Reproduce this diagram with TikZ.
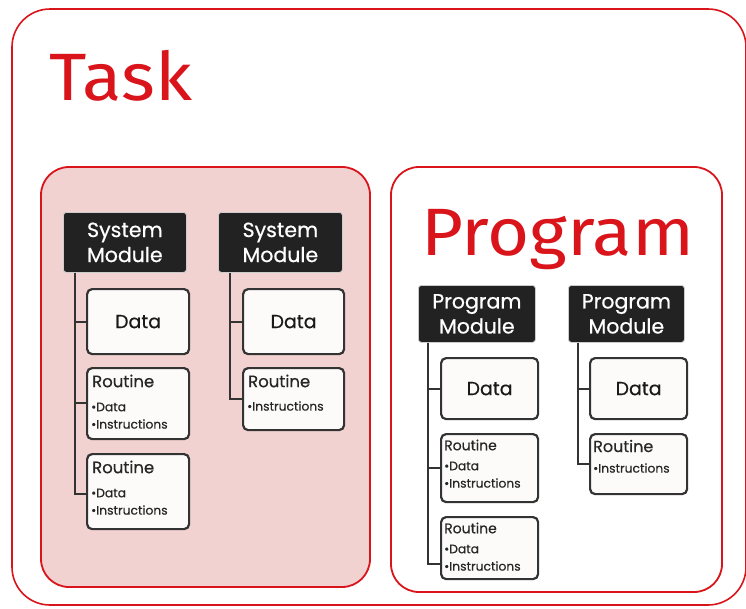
\documentclass[tikz,border=0pt]{standalone}
\usepackage{fontspec}
\setmainfont{Poppins}
\newfontfamily\titlefont[FakeStretch=1.08]{Fira Sans}
\newfontfamily\boxfont[FakeBold=0.6]{Poppins}
\newfontfamily\smallfont[FakeBold=0.4]{Poppins}
\definecolor{abbred}{HTML}{D9141B}
\definecolor{panelpink}{HTML}{F2D1D1}
\definecolor{modblack}{HTML}{222222}
\definecolor{boxfill}{HTML}{FDFAFA}
\definecolor{linegray}{HTML}{333333}
\tikzset{
  outerbox/.style={draw=abbred, line width=1.6pt, rounded corners=38pt},
  panel/.style={draw=abbred, line width=1.8pt, rounded corners=28pt},
  modbox/.style={draw=white!80!black, line width=0.8pt, fill=modblack, rounded corners=3pt,
    text=white, align=center, inner sep=0pt, anchor=north west,
    font=\boxfont\fontsize{20.5}{25}\selectfont},
  databox/.style={draw=linegray, line width=2.2pt, fill=boxfill, rounded corners=5pt,
    inner sep=0pt, anchor=north west, text=black!90, font=\boxfont\fontsize{19}{22}\selectfont},
  routbox/.style={draw=linegray, line width=2.2pt, fill=boxfill, rounded corners=5pt,
    inner sep=0pt, anchor=north west},
  routtext/.style={anchor=west, inner sep=0pt, align=left, text=black!85,
    font=\smallfont\fontsize{16.5}{18}\selectfont},
  bullettext/.style={anchor=west, inner sep=0pt, text=black!85,
    font=\smallfont\fontsize{12.3}{14}\selectfont},
  branch/.style={draw=linegray, line width=2.2pt},
  title/.style={anchor=base west, inner sep=0pt, text=abbred,
    font=\titlefont\fontsize{67}{70}\selectfont}
}
\begin{document}
\begin{tikzpicture}[x=1pt,y=-1pt]
\useasboundingbox (0,0) rectangle (746,608);
\begin{scope}
\clip (0,0) rectangle (746,608);
% outer task frame
\draw[outerbox, fill=white] (12,9) rectangle (746,605);
\end{scope}
\node[title] (task) at (49,100) {Task};

% system module panel
\draw[panel, fill=panelpink] (41,167) rectangle (370,587);
% program panel
\draw[panel, fill=white] (391,167) rectangle (722,592);
\node[title] (prog) at (421,255) {Program};

% ---- system modules ----
\node[modbox, minimum width=123pt, minimum height=60pt] (sm1) at (63,212) {System\\Module};
\node[modbox, minimum width=124pt, minimum height=60pt] (sm2) at (218,212) {System\\Module};

\node[databox, minimum width=102pt, minimum height=65pt] (sd1) at (86,288) {Data};
\node[routbox, minimum width=102pt, minimum height=71pt] (sr1) at (86,367) {};
\node[routbox, minimum width=102pt, minimum height=75pt] (sr2) at (86,453) {};
\node[databox, minimum width=101pt, minimum height=65pt] (sd2) at (242,288) {Data};
\node[routbox, minimum width=101pt, minimum height=62pt] (sr3) at (242,367) {};

% routine contents (offsets measured from the box's top-left corner)
\node[routtext] (sr1t) at ([xshift=6pt,yshift=-14pt]sr1.north west) {Routine};
\node[bullettext] (sr1a) at ([xshift=5pt,yshift=-40pt]sr1.north west) {•Data};
\node[bullettext] (sr1b) at ([xshift=5pt,yshift=-57pt]sr1.north west) {•Instructions};
\node[routtext] (sr2t) at ([xshift=6pt,yshift=-14pt]sr2.north west) {Routine};
\node[bullettext] (sr2a) at ([xshift=5pt,yshift=-40pt]sr2.north west) {•Data};
\node[bullettext] (sr2b) at ([xshift=5pt,yshift=-57pt]sr2.north west) {•Instructions};
\node[routtext] (sr3t) at ([xshift=6pt,yshift=-14pt]sr3.north west) {Routine};
\node[bullettext] (sr3a) at ([xshift=5pt,yshift=-39pt]sr3.north west) {•Instructions};

\draw[branch] ([xshift=12pt]sm1.south west) |- (sd1.west);
\draw[branch] ([xshift=12pt]sm1.south west) |- ([yshift=1pt]sr1.west);
\draw[branch] ([xshift=12pt]sm1.south west) |- ([yshift=-2pt]sr2.west);
\draw[branch] ([xshift=12pt]sm2.south west) |- (sd2.west);
\draw[branch] ([xshift=12pt]sm2.south west) |- ([yshift=0pt]sr3.west);

% ---- program modules ----
\node[modbox, minimum width=117pt, minimum height=57pt] (pm1) at (418,285) {Program\\Module};
\node[modbox, minimum width=116pt, minimum height=57pt] (pm2) at (568,285) {Program\\Module};

\node[databox, minimum width=97pt, minimum height=61pt] (pd1) at (440,357) {Data};
\node[routbox, minimum width=97pt, minimum height=68pt] (pr1) at (440,433) {};
\node[routbox, minimum width=97pt, minimum height=62pt] (pr2) at (440,516) {};
\node[databox, minimum width=97pt, minimum height=61pt] (pd2) at (589,357) {Data};
\node[routbox, minimum width=97pt, minimum height=60pt] (pr3) at (589,433) {};

\node[routtext, font=\smallfont\fontsize{14}{16}\selectfont] (pr1t) at ([xshift=4pt,yshift=-12pt]pr1.north west) {Routine};
\node[bullettext] (pr1a) at ([xshift=4pt,yshift=-33pt]pr1.north west) {•Data};
\node[bullettext] (pr1b) at ([xshift=4pt,yshift=-50pt]pr1.north west) {•Instructions};
\node[routtext, font=\smallfont\fontsize{14}{16}\selectfont] (pr2t) at ([xshift=4pt,yshift=-12pt]pr2.north west) {Routine};
\node[bullettext] (pr2a) at ([xshift=4pt,yshift=-33pt]pr2.north west) {•Data};
\node[bullettext] (pr2b) at ([xshift=4pt,yshift=-50pt]pr2.north west) {•Instructions};
\node[routtext, font=\smallfont\fontsize{16}{18}\selectfont] (pr3t) at ([xshift=4pt,yshift=-13pt]pr3.north west) {Routine};
\node[bullettext] (pr3a) at ([xshift=4pt,yshift=-35pt]pr3.north west) {•Instructions};

\draw[branch] ([xshift=10pt]pm1.south west) |- (pd1.west);
\draw[branch] ([xshift=10pt]pm1.south west) |- (pr1.west);
\draw[branch] ([xshift=10pt]pm1.south west) |- ([yshift=-16pt]pr2.west);
\draw[branch] ([xshift=10pt]pm2.south west) |- (pd2.west);
\draw[branch] ([xshift=10pt]pm2.south west) |- (pr3.west);
\end{tikzpicture}
\end{document}
